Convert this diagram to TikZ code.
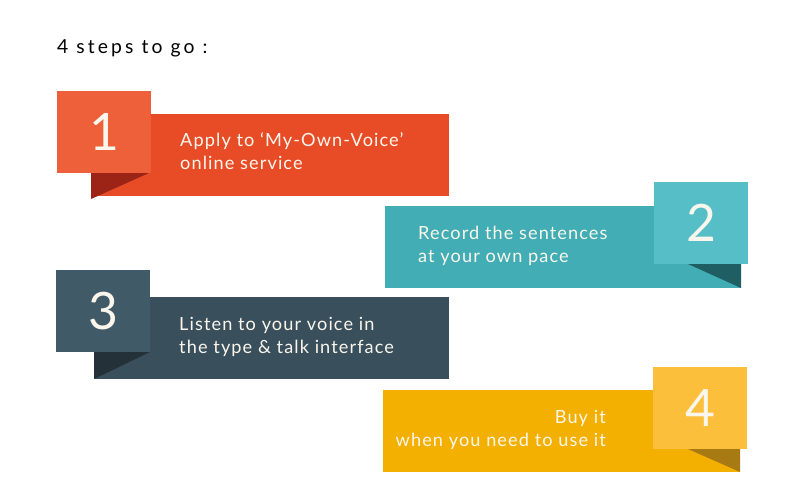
\documentclass[tikz,border=0pt]{standalone}
\usepackage{fontspec}
\setmainfont{Lato}
\definecolor{textwhite}{HTML}{FAF6EC}
\definecolor{redbox}{HTML}{EE603A}\definecolor{redband}{HTML}{E84C27}\definecolor{redfold}{HTML}{9B2417}
\definecolor{tealbox}{HTML}{56BEC6}\definecolor{tealband}{HTML}{42ADB4}\definecolor{tealfold}{HTML}{1F5F63}
\definecolor{slatebox}{HTML}{415A68}\definecolor{slateband}{HTML}{3A4F5C}\definecolor{slatefold}{HTML}{243139}
\definecolor{goldbox}{HTML}{FBBF3B}\definecolor{goldband}{HTML}{F4B000}\definecolor{goldfold}{HTML}{A77A14}
\tikzset{
    band/.style={inner sep=0pt, minimum width=356*0.3mm, minimum height=82*0.3mm},
    numbox/.style={inner sep=0pt, minimum width=94*0.3mm, minimum height=82*0.3mm,
        text=textwhite, font=\fontsize{44}{44}\selectfont\addfontfeature{Numbers=Lining}},
    steptext/.style={text=textwhite, font=\fontsize{15.5}{20}\selectfont\addfontfeature{LetterSpace=6}, align=left, inner sep=0pt}
}
\begin{document}
\begin{tikzpicture}[x=0.3mm, y=-0.3mm]
    \useasboundingbox[fill=white] (0,0) rectangle (800,501);
    % Title
    \node[anchor=west, font=\fontsize{16.5}{18}\selectfont\addfontfeature{LetterSpace=16}, inner sep=0pt] (title) at (57,48) {4 steps to go :};

    % Step 1
    \node[band, minimum width=358*0.3mm, fill=redband, anchor=north west] (band1) at (91,114) {};
    \fill[redfold] (91,173) -- (149,173) -- (91,199) -- cycle;
    \node[numbox, fill=redbox, anchor=north west] (num1) at (57,91) {1};
    \node[steptext, anchor=west] (text1) at (180,151) {Apply to ‘My-Own-Voice’\\online service};

    % Step 2
    \node[band, fill=tealband, anchor=north west] (band2) at (385,206) {};
    \fill[tealfold] (688,264) -- (741,264) -- (741,288) -- cycle;
    \node[numbox, fill=tealbox, anchor=north west] (num2) at (654,182) {2};
    \node[steptext, anchor=west] (text2) at (418,246) {Record the sentences\\at your own pace};

    % Step 3
    \node[band, minimum width=355*0.3mm, fill=slateband, anchor=north west] (band3) at (94,297) {};
    \fill[slatefold] (94,352) -- (150,352) -- (94,379) -- cycle;
    \node[numbox, fill=slatebox, anchor=north west] (num3) at (56,270) {3};
    \node[steptext, anchor=west] (text3) at (179,337) {Listen to your voice in\\the type \& talk interface};

    % Step 4
    \node[band, minimum width=357*0.3mm, fill=goldband, anchor=north west] (band4) at (383,390) {};
    \fill[goldfold] (688,449) -- (740,449) -- (740,472) -- cycle;
    \node[numbox, fill=goldbox, anchor=north west] (num4) at (653,367) {4};
    \node[steptext, align=right, anchor=east] (text4) at (606,430) {Buy it\\when you need to use it};
\end{tikzpicture}
\end{document}
